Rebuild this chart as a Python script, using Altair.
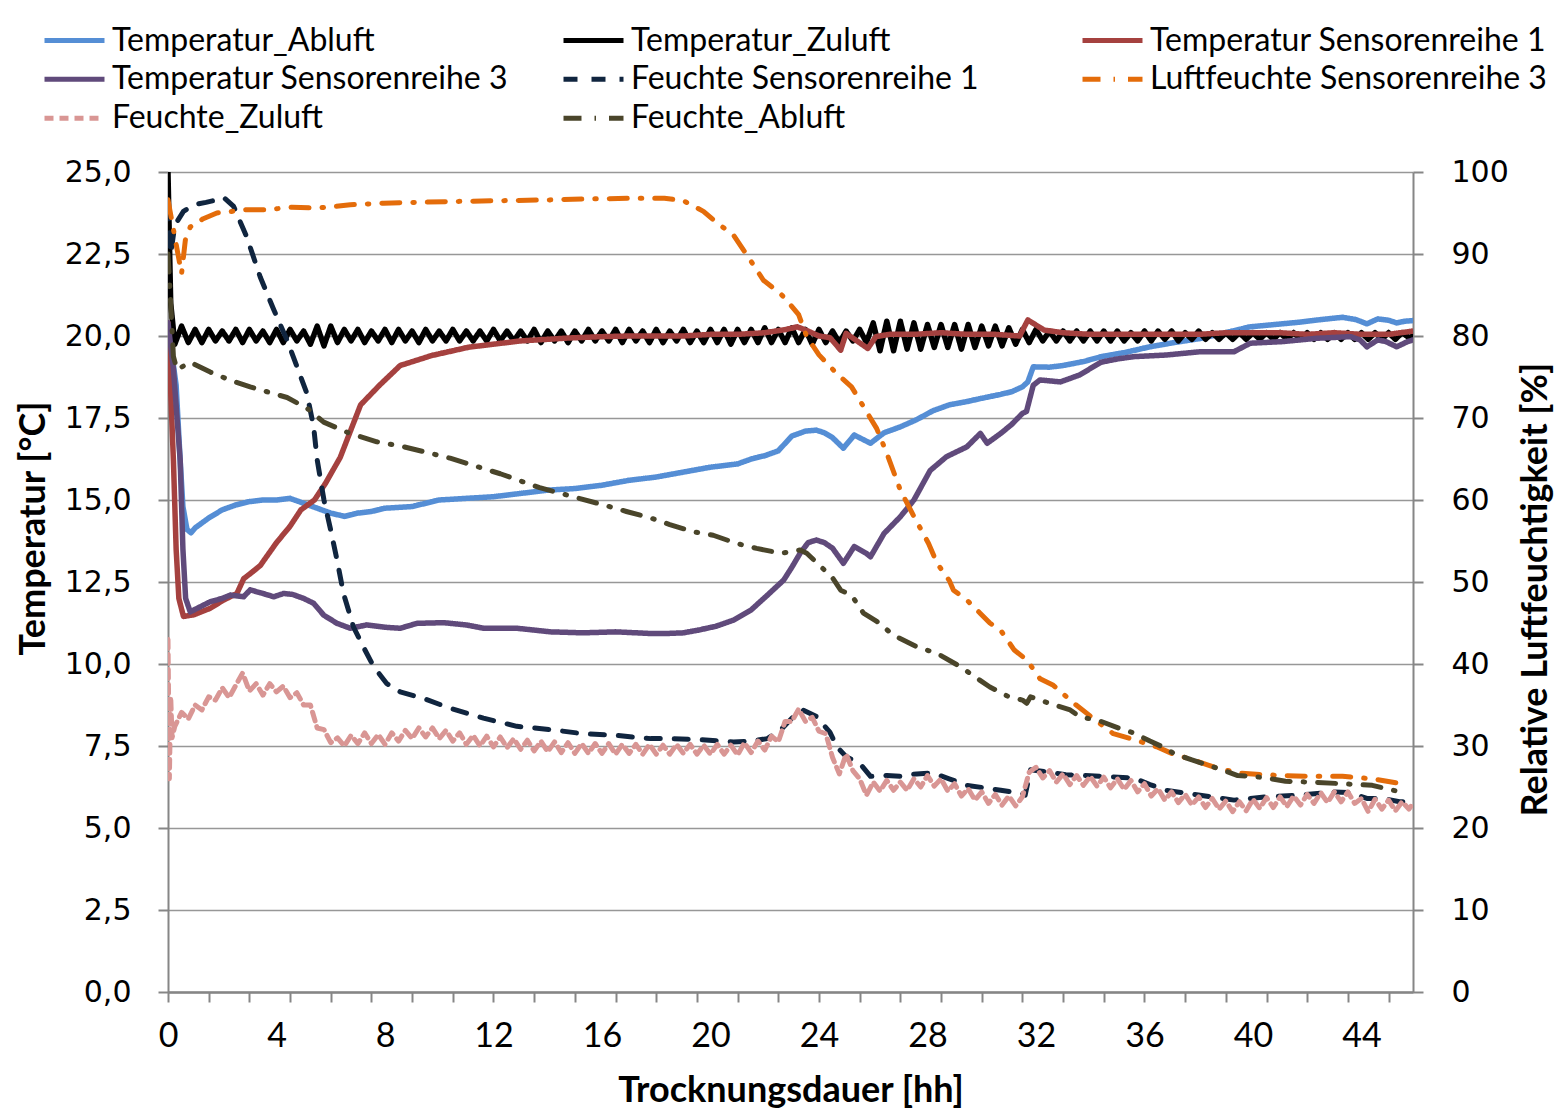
import altair as alt
import pandas as pd

SERIES = ["Temperatur_Abluft", "Temperatur_Zuluft", "Temperatur Sensorenreihe 1",
          "Temperatur Sensorenreihe 3", "Feuchte Sensorenreihe 1",
          "Luftfeuchte Sensorenreihe 3", "Feuchte_Zuluft", "Feuchte_Abluft"]
COLORS = ["#558ED5", "#000000", "#A5413F", "#604A7B", "#10253F", "#E46C0A", "#D99694", "#4A452A"]
DASHES = [[1, 0], [1, 0], [1, 0], [1, 0], [14, 14], [18, 13, 1.5, 13], [9, 6], [18, 13, 1.5, 13]]

X_LABELS = [0, 4, 8, 12, 16, 20, 24, 28, 32, 36, 40, 44]
X_TICKS = [0, 1.5, 3, 4.5, 6, 7.5, 9, 10.5, 12, 13.5, 15, 16.5, 18, 19.5, 21, 22.5, 24, 25.5,
           27, 28.5, 30, 31.5, 33, 34.5, 36, 37.5, 39, 40.5, 42, 43.5, 45]
Y_LEFT = [0, 2.5, 5, 7.5, 10, 12.5, 15, 17.5, 20, 22.5, 25]
Y_RIGHT = [0, 10, 20, 30, 40, 50, 60, 70, 80, 90, 100]

# sample grid of the logged (noisy) series, hours
grid_t = [
    0.25, 0.5, 0.75, 1.0, 1.25, 1.5, 1.75, 2.0, 2.25, 2.5, 2.75, 3.0, 3.25, 3.5, 3.75, 4.0,
    4.25, 4.5, 4.75, 5.0, 5.25, 5.5, 5.75, 6.0, 6.25, 6.5, 6.75, 7.0, 7.25, 7.5, 7.75, 8.0,
    8.25, 8.5, 8.75, 9.0, 9.25, 9.5, 9.75, 10.0, 10.25, 10.5, 10.75, 11.0, 11.25, 11.5, 11.75, 12.0,
    12.25, 12.5, 12.75, 13.0, 13.25, 13.5, 13.75, 14.0, 14.25, 14.5, 14.75, 15.0, 15.25, 15.5, 15.75, 16.0,
    16.25, 16.5, 16.75, 17.0, 17.25, 17.5, 17.75, 18.0, 18.25, 18.5, 18.75, 19.0, 19.25, 19.5, 19.75, 20.0,
    20.25, 20.5, 20.75, 21.0, 21.25, 21.5, 21.75, 22.0, 22.25, 22.5, 22.75, 23.0, 23.25, 23.5, 23.75, 24.0,
    24.25, 24.5, 24.75, 25.0, 25.25, 25.5, 25.75, 26.0, 26.25, 26.5, 26.75, 27.0, 27.25, 27.5, 27.75, 28.0,
    28.25, 28.5, 28.75, 29.0, 29.25, 29.5, 29.75, 30.0, 30.25, 30.5, 30.75, 31.0, 31.25, 31.5, 31.75, 32.0,
    32.25, 32.5, 32.75, 33.0, 33.25, 33.5, 33.75, 34.0, 34.25, 34.5, 34.75, 35.0, 35.25, 35.5, 35.75, 36.0,
    36.25, 36.5, 36.75, 37.0, 37.25, 37.5, 37.75, 38.0, 38.25, 38.5, 38.75, 39.0, 39.25, 39.5, 39.75, 40.0,
    40.25, 40.5, 40.75, 41.0, 41.25, 41.5, 41.75, 42.0, 42.25, 42.5, 42.75, 43.0, 43.25, 43.5, 43.75, 44.0,
    44.25, 44.5, 44.75, 45.0, 45.25, 45.5, 45.75]

# Temperatur_Abluft [°C]
abluft_t = [0, 0.3, 0.45, 0.55, 0.7, 0.85, 1.0, 1.5, 2.0, 2.5, 3.0, 3.5, 4.0, 4.5, 5.0, 5.5, 6.0, 6.5,
            7.0, 7.5, 8.0, 9.0, 10.0, 11.0, 12.0, 13.0, 14.0, 15.0, 16.0, 17.0, 18.0, 19.0, 20.0, 21.0,
            21.5, 22.0, 22.5, 23.0, 23.5, 23.9, 24.2, 24.5, 24.9, 25.3, 25.9, 26.4, 27.0, 27.6, 28.2,
            28.8, 29.45, 30.0, 30.7, 31.1, 31.5, 31.7, 31.9, 32.5, 33.0, 33.75, 34.4, 35.3, 36.2, 37.1,
            38.1, 39.0, 39.9, 40.8, 41.7, 42.5, 43.3, 43.8, 44.2, 44.6, 45.0, 45.3, 45.6, 45.9]
abluft_v = [20.3, 18.5, 16.2, 14.8, 14.1, 14.0, 14.15, 14.45, 14.7, 14.85, 14.95, 15.0, 15.0, 15.05,
            14.9, 14.75, 14.6, 14.5, 14.6, 14.65, 14.75, 14.8, 15.0, 15.05, 15.1, 15.2, 15.3, 15.35,
            15.45, 15.6, 15.7, 15.85, 16.0, 16.1, 16.25, 16.35, 16.5, 16.95, 17.1, 17.13, 17.05, 16.9,
            16.58, 16.98, 16.73, 17.05, 17.23, 17.45, 17.72, 17.9, 18.0, 18.1, 18.22, 18.3, 18.45,
            18.6, 19.06, 19.05, 19.1, 19.22, 19.37, 19.5, 19.67, 19.8, 19.93, 20.1, 20.28, 20.35,
            20.42, 20.5, 20.57, 20.5, 20.37, 20.52, 20.48, 20.4, 20.45, 20.47]

# Temperatur_Zuluft [°C]
zuluft_t = [0, 0.05, 0.1, 0.15] + grid_t + [45.9]
zuluft_v = [25.0, 23.0, 21.0, 20.6,
            19.75, 20.3, 19.8, 20.2, 19.8, 20.2, 19.85, 20.15, 19.85, 20.2, 19.8, 20.2,
            19.85, 20.15, 19.8, 20.2, 19.8, 20.2, 19.85, 20.15, 19.75, 20.3, 19.7, 20.3,
            19.8, 20.2, 19.85, 20.2, 19.8, 20.15, 19.85, 20.2, 19.8, 20.2, 19.85, 20.15,
            19.8, 20.2, 19.85, 20.15, 19.85, 20.2, 19.85, 20.15, 19.85, 20.15, 19.85, 20.2,
            19.85, 20.15, 19.85, 20.15, 19.85, 20.2, 19.8, 20.15, 19.85, 20.15, 19.8, 20.15,
            19.85, 20.2, 19.85, 20.15, 19.85, 20.2, 19.8, 20.2, 19.85, 20.15, 19.8, 20.2,
            19.8, 20.15, 19.85, 20.2, 19.8, 20.15, 19.8, 20.2, 19.8, 20.2, 19.75, 20.2,
            19.8, 20.2, 19.8, 20.25, 19.8, 20.2, 19.8, 20.25, 19.8, 20.2, 19.75, 20.2,
            19.8, 20.15, 19.8, 20.15, 19.85, 20.2, 19.8, 20.4, 19.55, 20.45, 19.55, 20.45,
            19.6, 20.4, 19.6, 20.35, 19.65, 20.35, 19.65, 20.35, 19.6, 20.35, 19.65, 20.3,
            19.7, 20.3, 19.7, 20.25, 19.75, 20.2, 19.8, 20.2, 19.85, 20.15, 19.85, 20.15,
            19.85, 20.15, 19.85, 20.15, 19.85, 20.15, 19.85, 20.15, 19.85, 20.1, 19.85, 20.15,
            19.85, 20.15, 19.9, 20.15, 19.85, 20.1, 19.9, 20.15, 19.9, 20.1, 19.9, 20.1,
            19.9, 20.1, 19.9, 20.1, 19.9, 20.1, 19.9, 20.1, 19.9, 20.1, 19.9, 20.1,
            19.9, 20.1, 19.9, 20.1, 19.9, 20.1, 19.9, 20.1, 19.9, 20.1, 19.9, 20.1,
            19.9, 20.1, 19.95,
            20.0]

# Temperatur Sensorenreihe 1 [°C]
sr1_t = [0, 0.2, 0.3, 0.4, 0.57, 0.95, 1.56, 2.05, 2.54, 2.79, 3.1, 3.4, 4.0, 4.5, 4.9, 5.4, 5.8, 6.35,
         7.1, 7.8, 8.56, 9.7, 11.1, 13.0, 14.8, 16.0, 17.0, 18.0, 19.0, 20.0, 21.0, 22.0, 22.8, 23.2,
         23.6, 24.0, 24.4, 24.8, 25.0, 25.4, 25.8, 26.1, 26.6, 27.5, 28.5, 29.5, 30.5, 31.4, 31.7,
         32.3, 33.0, 34.0, 35.0, 36.0, 37.0, 38.0, 39.0, 40.0, 41.0, 42.0, 43.0, 44.0, 45.0, 45.9]
sr1_v = [20.4, 16.2, 13.5, 12.0, 11.45, 11.5, 11.7, 11.95, 12.15, 12.6, 12.8, 13.0, 13.7, 14.2, 14.7,
         15.0, 15.5, 16.3, 17.9, 18.5, 19.1, 19.4, 19.66, 19.85, 19.94, 19.98, 20.0, 20.0, 20.0, 20.05,
         20.05, 20.1, 20.2, 20.28, 20.15, 20.0, 19.95, 19.57, 20.08, 19.85, 19.62, 19.98, 20.05, 20.05,
         20.1, 20.05, 20.05, 20.0, 20.49, 20.18, 20.1, 20.05, 20.05, 20.05, 20.05, 20.05, 20.1, 20.1,
         20.1, 20.05, 20.1, 20.05, 20.05, 20.15]

# Temperatur Sensorenreihe 3 [°C]
sr3_t = [0, 0.2, 0.45, 0.55, 0.65, 0.82, 1.2, 1.56, 2.0, 2.3, 2.79, 3.03, 3.5, 3.9, 4.26, 4.6, 5.0,
         5.37, 5.74, 6.23, 6.72, 7.33, 8.0, 8.56, 9.18, 10.16, 11.0, 11.63, 12.86, 14.1, 15.3, 16.5,
         17.8, 18.4, 19.0, 19.6, 20.2, 20.85, 21.5, 22.1, 22.7, 23.0, 23.3, 23.6, 23.9, 24.2, 24.5,
         24.9, 25.3, 25.75, 25.9, 26.4, 27.0, 27.5, 28.1, 28.7, 29.45, 29.95, 30.2, 30.7, 31.1, 31.5,
         31.65, 31.9, 32.15, 32.9, 33.6, 34.4, 35.0, 35.6, 36.8, 38.05, 39.3, 39.9, 41.1, 42.35, 43.6,
         43.95, 44.2, 44.6, 44.9, 45.3, 45.7, 45.9]
sr3_v = [20.4, 19.0, 16.2, 13.5, 12.0, 11.59, 11.75, 11.9, 12.0, 12.1, 12.05, 12.26, 12.15, 12.05,
         12.15, 12.12, 12.0, 11.85, 11.49, 11.24, 11.09, 11.19, 11.12, 11.09, 11.24, 11.26, 11.19,
         11.09, 11.09, 10.98, 10.95, 10.98, 10.93, 10.93, 10.95, 11.04, 11.15, 11.34, 11.65, 12.1,
         12.56, 12.95, 13.37, 13.7, 13.78, 13.7, 13.53, 13.07, 13.58, 13.37, 13.27, 13.98, 14.49,
         15.0, 15.9, 16.32, 16.62, 17.03, 16.73, 17.03, 17.3, 17.64, 17.7, 18.5, 18.66, 18.6, 18.81,
         19.2, 19.3, 19.37, 19.42, 19.52, 19.52, 19.78, 19.83, 19.93, 19.98, 19.88, 19.67, 19.88,
         19.83, 19.67, 19.83, 19.88]

# Feuchte Sensorenreihe 1 [%]
f_sr1_t = [0, 0.1, 0.25, 0.57, 0.95, 1.4, 1.8, 2.05, 2.42, 2.9, 3.4, 3.9, 4.39, 4.75, 5.12, 5.37, 5.5,
           5.75, 6.0, 6.23, 6.47, 6.84, 7.2, 7.58, 8.07, 8.56, 9.42, 10.4, 11.63, 12.86, 14.1, 15.3,
           16.5, 17.8, 18.4, 19.5, 20.85, 21.5, 22.1, 22.6, 23.06, 23.4, 23.9, 24.4, 24.66, 25.0,
           25.3, 25.6, 25.9, 26.5, 27.0, 27.6, 28.2, 28.8, 29.45, 30.1, 30.7, 31.5, 31.6, 31.8, 32.5,
           33.1, 34.4, 35.6, 36.2, 36.8, 38.05, 39.3, 40.5, 41.7, 43.0, 43.6, 44.2, 44.8, 45.4, 45.9]
f_sr1_v = [96.0, 90.0, 93.5, 95.2, 96.0, 96.3, 96.6, 96.9, 95.8, 92.1, 87.2, 83.2, 79.5, 76.3, 73.0,
           68.9, 64.9, 60.0, 56.3, 52.7, 48.6, 44.5, 42.1, 39.7, 37.6, 36.6, 35.8, 34.6, 33.4, 32.4,
           32.0, 31.5, 31.3, 30.9, 30.9, 30.8, 30.5, 30.6, 30.9, 32.0, 33.6, 34.4, 33.6, 31.7, 29.9,
           28.7, 28.2, 27.5, 26.3, 26.4, 26.3, 26.6, 26.7, 26.0, 25.2, 24.9, 24.6, 24.2, 24.0, 27.1,
           26.8, 26.5, 26.3, 26.1, 25.3, 24.6, 24.0, 23.4, 23.8, 24.0, 24.4, 24.3, 23.6, 23.6, 23.2,
           23.2]

# Luftfeuchte Sensorenreihe 3 [%]
f_sr3_t = [0, 0.2, 0.5, 0.64, 0.82, 1.3, 1.8, 2.9, 3.65, 4.57, 5.5, 6.72, 7.95, 9.18, 10.4, 12.25,
           14.1, 15.3, 17.2, 18.3, 19.0, 19.74, 20.2, 20.85, 21.46, 21.95, 22.57, 22.8, 23.25, 23.55,
           24.0, 24.66, 25.2, 25.64, 26.13, 26.5, 27.0, 27.5, 28.04, 28.35, 28.8, 28.96, 29.45, 29.94,
           30.3, 30.7, 31.2, 31.66, 32.15, 32.64, 33.4, 34.1, 34.85, 35.6, 36.45, 37.07, 37.8, 38.67,
           39.5, 40.4, 41.1, 42.1, 43.3, 44.4, 45.3, 45.7]
f_sr3_v = [96.6, 93.0, 87.6, 91.7, 93.3, 94.3, 95.0, 95.4, 95.4, 95.7, 95.6, 96.0, 96.2, 96.3, 96.4,
           96.5, 96.6, 96.7, 96.8, 96.8, 96.5, 95.2, 93.9, 92.3, 89.3, 86.8, 85.2, 84.4, 82.6, 79.9,
           77.7, 75.4, 73.8, 71.4, 68.7, 65.7, 61.2, 58.0, 54.7, 52.3, 50.2, 49.0, 47.8, 46.2, 45.0,
           44.1, 41.7, 40.5, 38.2, 37.4, 35.2, 33.4, 31.5, 30.8, 29.9, 29.0, 28.3, 27.3, 26.7, 26.5,
           26.4, 26.3, 26.3, 26.0, 25.5, 25.4]

# Feuchte_Zuluft [%]
f_zu_t = [0, 0.05, 0.1, 0.15] + grid_t + [45.9]
f_zu_v = [43.0, 26.0, 36.0, 31.0,
          32.4, 34.1, 33.3, 35.0, 34.4, 36.0, 35.6, 37.1, 35.9, 37.4, 38.9, 36.7,
          37.6, 36.2, 37.6, 36.6, 37.3, 35.9, 36.5, 35.0, 35.0, 32.2, 32.0, 30.4,
          31.0, 30.0, 31.3, 30.3, 31.6, 30.3, 31.4, 30.2, 31.6, 30.6, 31.9, 30.9,
          32.2, 31.1, 32.2, 30.9, 31.9, 30.6, 31.6, 30.2, 31.3, 30.0, 31.2, 29.9,
          31.1, 29.8, 30.9, 29.6, 30.7, 29.4, 30.6, 29.3, 30.5, 29.2, 30.4, 29.1,
          30.3, 29.1, 30.3, 29.1, 30.3, 29.0, 30.2, 29.1, 30.2, 29.0, 30.2, 29.0,
          30.1, 29.0, 30.2, 29.1, 30.2, 29.0, 30.1, 29.0, 30.2, 29.0, 30.1, 28.9,
          30.4, 29.2, 30.6, 29.5, 31.2, 30.5, 33.0, 33.0, 34.5, 33.0, 33.5, 31.8,
          31.5, 28.6, 26.6, 29.0, 27.0, 26.0, 24.0, 25.6, 24.5, 25.8, 24.6, 25.6,
          24.6, 26.0, 25.0, 26.4, 25.1, 26.0, 24.5, 25.4, 23.9, 24.8, 23.4, 24.4,
          23.0, 24.1, 22.8, 23.9, 22.7, 23.8, 26.8, 27.4, 26.1, 27.0, 25.6, 26.6,
          25.3, 26.4, 25.2, 26.3, 25.1, 26.2, 24.9, 26.0, 24.7, 25.8, 24.4, 25.4,
          23.9, 24.8, 23.4, 24.4, 23.1, 24.1, 22.8, 23.8, 22.5, 23.6, 22.3, 23.3,
          22.0, 23.2, 22.1, 23.5, 22.4, 23.7, 22.5, 23.8, 22.6, 23.9, 22.8, 24.1,
          23.0, 24.3, 23.1, 24.4, 23.2, 24.4, 23.0, 23.6, 22.0, 23.5, 22.3, 23.4,
          22.1, 23.2, 22.3,
          23.0]

# Feuchte_Abluft [%]
f_ab_t = [0, 0.1, 0.2, 0.33, 0.82, 1.56, 2.3, 3.03, 3.65, 4.39, 5.12, 5.74, 6.72, 7.7, 8.68, 9.42,
          10.4, 12.25, 13.7, 16.06, 16.9, 17.8, 18.5, 19.4, 20.1, 20.97, 21.7, 22.6, 23.3, 23.55,
          24.0, 24.5, 24.8, 25.2, 25.64, 26.13, 26.75, 27.6, 28.35, 29.2, 29.94, 30.3, 31.0, 31.5,
          31.66, 31.8, 32.5, 33.26, 33.6, 34.4, 35.2, 35.6, 36.2, 36.8, 37.07, 37.75, 38.5, 39.44,
          40.0, 40.5, 41.2, 42.1, 43.3, 44.4, 45.3, 45.7]
f_ab_v = [90.0, 84.0, 77.5, 75.9, 76.8, 75.6, 74.6, 73.8, 73.2, 72.5, 71.2, 69.5, 68.1, 67.1, 66.5,
          65.9, 65.1, 63.2, 61.5, 59.4, 58.6, 57.8, 57.0, 56.1, 55.7, 54.7, 54.1, 53.5, 53.9, 53.5,
          52.1, 50.5, 49.0, 48.4, 46.2, 45.2, 43.5, 42.1, 41.3, 39.7, 38.0, 37.2, 36.0, 35.6, 35.2,
          36.0, 35.2, 34.4, 33.6, 33.0, 32.0, 31.6, 30.6, 29.7, 29.1, 28.3, 27.5, 26.4, 26.3, 26.1,
          25.7, 25.6, 25.4, 25.2, 24.5, 24.5]

rows = []
for name, ts, vs in [
    (SERIES[0], abluft_t, abluft_v), (SERIES[1], zuluft_t, zuluft_v),
    (SERIES[2], sr1_t, sr1_v), (SERIES[3], sr3_t, sr3_v),
    (SERIES[4], f_sr1_t, f_sr1_v), (SERIES[5], f_sr3_t, f_sr3_v),
    (SERIES[6], f_zu_t, f_zu_v), (SERIES[7], f_ab_t, f_ab_v)]:
    assert len(ts) == len(vs), (name, len(ts), len(vs))
    for t, v in zip(ts, vs):
        rows.append({"series": name, "t": t, "v": v})
df = pd.DataFrame(rows)

LAB_FONT = "Lato"
NUM_FONT = "DejaVu Sans"

legend = alt.Legend(title=None, orient="none", legendX=-126, legendY=-151, columns=3,
                    direction="horizontal", gridAlign="all", columnPadding=52, rowPadding=0,
                    clipHeight=38.5, symbolType="stroke", symbolSize=3600, symbolStrokeWidth=5,
                    labelFont=LAB_FONT, labelFontSize=32, labelColor="black", labelOffset=5,
                    labelLimit=0, padding=0)

color = alt.Color("series:N", scale=alt.Scale(domain=SERIES, range=COLORS), legend=legend)
dash = alt.StrokeDash("series:N", scale=alt.Scale(domain=SERIES, range=DASHES), legend=legend)
x_scale = alt.Scale(domain=[0, 45.9], nice=False, zero=False)

temp = alt.Chart(df).transform_filter(
    alt.FieldOneOfPredicate(field="series", oneOf=SERIES[:4])
).mark_line(strokeWidth=5.5, strokeJoin="round", strokeCap="round", clip=True).encode(
    x=alt.X("t:Q", scale=x_scale, axis=alt.Axis(
        orient="bottom", values=X_LABELS, ticks=False, tickSize=0, grid=False, domain=True,
        labelFont=LAB_FONT, labelFontSize=34, labelPadding=44, labelBaseline="middle",
        labelFlush=False, labelOverlap=False,
        title="Trocknungsdauer [hh]", titleFont=LAB_FONT, titleFontSize=36, titleFontWeight="bold",
        titleY=98, titleBaseline="middle")),
    y=alt.Y("v:Q", scale=alt.Scale(domain=[0, 25], nice=False), axis=alt.Axis(
        orient="left", values=Y_LEFT, labelExpr="replace(format(datum.value, '.1f'), '.', ',')",
        grid=True, tickSize=10, labelPadding=27, labelFont=NUM_FONT, labelFontSize=30,
        title="Temperatur [°C]", titleFont=LAB_FONT, titleFontSize=36, titleFontWeight="bold",
        titleX=-135, titleY=356, titleAngle=270, titleAlign="center", titleBaseline="middle")),
    color=color,
    strokeDash=dash,
)

hum = alt.Chart(df).transform_filter(
    alt.FieldOneOfPredicate(field="series", oneOf=SERIES[4:])
).mark_line(strokeWidth=5, strokeJoin="round", strokeCap="round", clip=True).encode(
    x=alt.X("t:Q", scale=x_scale, axis=alt.Axis(
        orient="bottom", values=X_TICKS, labels=False, tickSize=10, grid=False, domain=True,
        title=None)),
    y=alt.Y("v:Q", scale=alt.Scale(domain=[0, 100], nice=False), axis=alt.Axis(
        orient="right", values=Y_RIGHT, grid=False, tickSize=10, labelPadding=28,
        labelFont=NUM_FONT, labelFontSize=30,
        title="Relative Luftfeuchtigkeit [%]", titleFont=LAB_FONT, titleFontSize=36,
        titleFontWeight="bold", titleX=122, titleY=417, titleAngle=270, titleAlign="center",
        titleBaseline="middle")),
    color=color,
    strokeDash=dash,
)

chart = alt.layer(temp, hum).resolve_scale(y="independent").resolve_axis(x="independent").properties(
    width=1245, height=820,
    autosize=alt.AutoSizeParams(type="none"),
    padding={"left": 160, "top": 164, "right": 144, "bottom": 118},
).configure_view(stroke=None).configure_axis(
    domainColor="#868686", domainWidth=2, tickColor="#868686", tickWidth=2,
    gridColor="#979797", gridWidth=1.5, labelColor="black", titleColor="black",
)

chart.save("out.html", embed_options={"renderer": "svg", "actions": False})
